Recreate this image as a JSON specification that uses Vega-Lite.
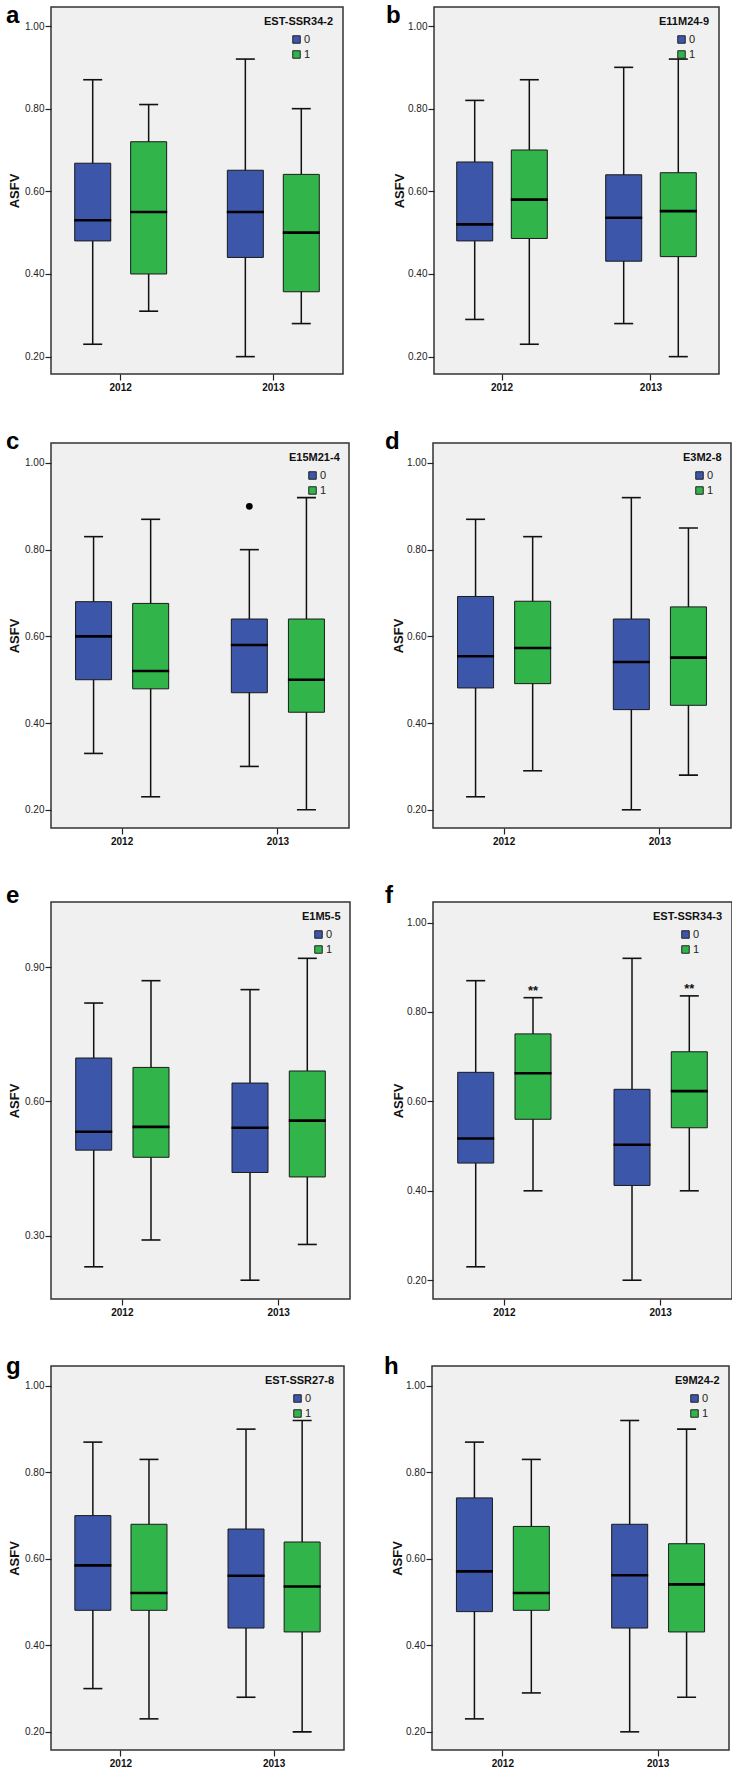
{
  "$schema": "https://vega.github.io/schema/vega-lite/v6.json",
  "padding": {"left": 5, "top": 3, "right": 0, "bottom": 0},
  "background": "#ffffff",
  "datasets": {
    "boxes": [
      {"panel": "a", "year": "2012", "group": "0", "min": 0.23, "q1": 0.48, "median": 0.53, "q3": 0.668, "max": 0.87},
      {"panel": "a", "year": "2012", "group": "1", "min": 0.31, "q1": 0.40, "median": 0.55, "q3": 0.72, "max": 0.81},
      {"panel": "a", "year": "2013", "group": "0", "min": 0.20, "q1": 0.44, "median": 0.55, "q3": 0.651, "max": 0.92},
      {"panel": "a", "year": "2013", "group": "1", "min": 0.28, "q1": 0.357, "median": 0.50, "q3": 0.641, "max": 0.80},
      {"panel": "b", "year": "2012", "group": "0", "min": 0.29, "q1": 0.48, "median": 0.52, "q3": 0.671, "max": 0.82},
      {"panel": "b", "year": "2012", "group": "1", "min": 0.23, "q1": 0.486, "median": 0.58, "q3": 0.70, "max": 0.87},
      {"panel": "b", "year": "2013", "group": "0", "min": 0.28, "q1": 0.431, "median": 0.536, "q3": 0.64, "max": 0.90},
      {"panel": "b", "year": "2013", "group": "1", "min": 0.20, "q1": 0.442, "median": 0.552, "q3": 0.645, "max": 0.92},
      {"panel": "c", "year": "2012", "group": "0", "min": 0.33, "q1": 0.50, "median": 0.60, "q3": 0.68, "max": 0.83},
      {"panel": "c", "year": "2012", "group": "1", "min": 0.23, "q1": 0.479, "median": 0.52, "q3": 0.676, "max": 0.87},
      {"panel": "c", "year": "2013", "group": "0", "min": 0.30, "q1": 0.47, "median": 0.58, "q3": 0.64, "max": 0.80},
      {"panel": "c", "year": "2013", "group": "1", "min": 0.20, "q1": 0.425, "median": 0.50, "q3": 0.64, "max": 0.92},
      {"panel": "d", "year": "2012", "group": "0", "min": 0.23, "q1": 0.481, "median": 0.554, "q3": 0.692, "max": 0.87},
      {"panel": "d", "year": "2012", "group": "1", "min": 0.29, "q1": 0.491, "median": 0.573, "q3": 0.681, "max": 0.83},
      {"panel": "d", "year": "2013", "group": "0", "min": 0.20, "q1": 0.431, "median": 0.541, "q3": 0.64, "max": 0.92},
      {"panel": "d", "year": "2013", "group": "1", "min": 0.28, "q1": 0.441, "median": 0.551, "q3": 0.668, "max": 0.85},
      {"panel": "e", "year": "2012", "group": "0", "min": 0.23, "q1": 0.491, "median": 0.532, "q3": 0.697, "max": 0.82},
      {"panel": "e", "year": "2012", "group": "1", "min": 0.29, "q1": 0.475, "median": 0.543, "q3": 0.676, "max": 0.87},
      {"panel": "e", "year": "2013", "group": "0", "min": 0.20, "q1": 0.441, "median": 0.541, "q3": 0.641, "max": 0.85},
      {"panel": "e", "year": "2013", "group": "1", "min": 0.28, "q1": 0.431, "median": 0.557, "q3": 0.668, "max": 0.92},
      {"panel": "f", "year": "2012", "group": "0", "min": 0.23, "q1": 0.462, "median": 0.517, "q3": 0.665, "max": 0.87},
      {"panel": "f", "year": "2012", "group": "1", "min": 0.40, "q1": 0.56, "median": 0.663, "q3": 0.751, "max": 0.832, "sig": "**"},
      {"panel": "f", "year": "2013", "group": "0", "min": 0.20, "q1": 0.412, "median": 0.503, "q3": 0.627, "max": 0.92},
      {"panel": "f", "year": "2013", "group": "1", "min": 0.40, "q1": 0.541, "median": 0.623, "q3": 0.711, "max": 0.836, "sig": "**"},
      {"panel": "g", "year": "2012", "group": "0", "min": 0.30, "q1": 0.481, "median": 0.585, "q3": 0.70, "max": 0.87},
      {"panel": "g", "year": "2012", "group": "1", "min": 0.23, "q1": 0.481, "median": 0.521, "q3": 0.68, "max": 0.83},
      {"panel": "g", "year": "2013", "group": "0", "min": 0.28, "q1": 0.44, "median": 0.561, "q3": 0.669, "max": 0.90},
      {"panel": "g", "year": "2013", "group": "1", "min": 0.20, "q1": 0.431, "median": 0.536, "q3": 0.639, "max": 0.92},
      {"panel": "h", "year": "2012", "group": "0", "min": 0.23, "q1": 0.478, "median": 0.571, "q3": 0.741, "max": 0.87},
      {"panel": "h", "year": "2012", "group": "1", "min": 0.29, "q1": 0.481, "median": 0.521, "q3": 0.675, "max": 0.83},
      {"panel": "h", "year": "2013", "group": "0", "min": 0.20, "q1": 0.44, "median": 0.562, "q3": 0.68, "max": 0.92},
      {"panel": "h", "year": "2013", "group": "1", "min": 0.28, "q1": 0.431, "median": 0.541, "q3": 0.635, "max": 0.90}
    ],
    "outliers": [
      {"panel": "c", "year": "2013", "group": "0", "value": 0.90}
    ]
  },
  "data": {"name": "boxes"},
  "config": {
    "font": "Liberation Sans",
    "view": {"fill": "#f0f0f0", "stroke": "#333333", "strokeWidth": 1.5},
    "axis": {"domain": false, "grid": false, "ticks": true, "tickSize": 6, "tickColor": "#222222", "tickWidth": 1.2, "labelColor": "#222222", "labelFont": "Liberation Sans"},
    "axisY": {"labelFontSize": 10, "labelPadding": 1, "minExtent": 27, "maxExtent": 27, "titleFontSize": 13, "titleFontWeight": "bold", "titleColor": "#111111", "titlePadding": 3},
    "axisX": {"labelFontSize": 10, "labelFontWeight": "bold", "labelAngle": 0, "labelPadding": 2, "labelColor": "#111111"},
    "title": {"fontSize": 24, "fontWeight": "bold", "anchor": "start", "frame": "group", "baseline": "alphabetic", "color": "#000000"},
    "legend": {"orient": "top-right", "offset": 9, "padding": 0, "titleFontSize": 11, "titleFontWeight": "bold", "titleColor": "#111111", "labelFontSize": 11, "labelColor": "#222222", "symbolType": "square", "symbolSize": 56, "symbolStrokeColor": "#222222", "symbolStrokeWidth": 1, "rowPadding": 2, "titlePadding": 7, "labelOffset": 2}
  },
  "resolve": {"scale": {"x": "independent", "y": "independent", "xOffset": "independent", "color": "independent"}, "legend": {"color": "independent"}},
  "spacing": 36,
  "vconcat": [
    {
      "spacing": 41,
      "resolve": {"scale": {"x": "independent", "y": "independent", "xOffset": "independent", "color": "independent"}, "legend": {"color": "independent"}},
      "hconcat": [
        {
          "width": 292, "height": 367, "title": {"text": "a", "offset": -21, "dx": -45},
          "transform": [{"filter": "datum.panel === 'a'"}],
          "encoding": {
            "x": {"field": "year", "type": "nominal", "title": null, "scale": {"paddingInner": 0.267, "paddingOuter": 0.09}},
            "xOffset": {"field": "group", "type": "nominal", "scale": {"domain": ["0", "1"], "paddingInner": 0, "paddingOuter": 0}}
          },
          "layer": [
            {"mark": {"type": "rule", "color": "#111111", "strokeWidth": 1.5}, "encoding": {"y": {"field": "min", "type": "quantitative", "title": "ASFV", "scale": {"domain": [0.158, 1.046], "nice": false, "zero": false}, "axis": {"values": [0.2, 0.4, 0.6, 0.8, 1.0], "format": ".2f"}}, "y2": {"field": "max"}}},
            {"mark": {"type": "tick", "color": "#111111", "size": 19, "thickness": 1.6, "opacity": 1}, "encoding": {"y": {"field": "min", "type": "quantitative", "title": "ASFV"}}},
            {"mark": {"type": "tick", "color": "#111111", "size": 19, "thickness": 1.6, "opacity": 1}, "encoding": {"y": {"field": "max", "type": "quantitative", "title": "ASFV"}}},
            {"mark": {"type": "bar", "stroke": "#1a1a1a", "strokeWidth": 1, "width": 36, "opacity": 1}, "encoding": {"y": {"field": "q1", "type": "quantitative", "title": "ASFV"}, "y2": {"field": "q3"}, "color": {"field": "group", "type": "nominal", "scale": {"domain": ["0", "1"], "range": ["#3c56a9", "#31b54b"]}, "legend": {"title": "EST-SSR34-2", "symbolOffset": 27}}}},
            {"mark": {"type": "tick", "color": "#000000", "size": 37, "thickness": 2.6, "opacity": 1}, "encoding": {"y": {"field": "median", "type": "quantitative", "title": "ASFV"}}}
          ]
        },
        {
          "width": 285, "height": 367, "title": {"text": "b", "offset": -21, "dx": -48},
          "transform": [{"filter": "datum.panel === 'b'"}],
          "encoding": {
            "x": {"field": "year", "type": "nominal", "title": null, "scale": {"paddingInner": 0.267, "paddingOuter": 0.09}},
            "xOffset": {"field": "group", "type": "nominal", "scale": {"domain": ["0", "1"], "paddingInner": 0, "paddingOuter": 0}}
          },
          "layer": [
            {"mark": {"type": "rule", "color": "#111111", "strokeWidth": 1.5}, "encoding": {"y": {"field": "min", "type": "quantitative", "title": "ASFV", "scale": {"domain": [0.158, 1.046], "nice": false, "zero": false}, "axis": {"values": [0.2, 0.4, 0.6, 0.8, 1.0], "format": ".2f", "titlePadding": 1}}, "y2": {"field": "max"}}},
            {"mark": {"type": "tick", "color": "#111111", "size": 19, "thickness": 1.6, "opacity": 1}, "encoding": {"y": {"field": "min", "type": "quantitative", "title": "ASFV"}}},
            {"mark": {"type": "tick", "color": "#111111", "size": 19, "thickness": 1.6, "opacity": 1}, "encoding": {"y": {"field": "max", "type": "quantitative", "title": "ASFV"}}},
            {"mark": {"type": "bar", "stroke": "#1a1a1a", "strokeWidth": 1, "width": 36, "opacity": 1}, "encoding": {"y": {"field": "q1", "type": "quantitative", "title": "ASFV"}, "y2": {"field": "q3"}, "color": {"field": "group", "type": "nominal", "scale": {"domain": ["0", "1"], "range": ["#3c56a9", "#31b54b"]}, "legend": {"title": "E11M24-9", "symbolOffset": 17}}}},
            {"mark": {"type": "tick", "color": "#000000", "size": 37, "thickness": 2.6, "opacity": 1}, "encoding": {"y": {"field": "median", "type": "quantitative", "title": "ASFV"}}}
          ]
        }
      ]
    },
    {
      "spacing": 34,
      "resolve": {"scale": {"x": "independent", "y": "independent", "xOffset": "independent", "color": "independent"}, "legend": {"color": "independent"}},
      "hconcat": [
        {
          "width": 298, "height": 385, "title": {"text": "c", "offset": -11, "dx": -45},
          "transform": [{"filter": "datum.panel === 'c'"}],
          "encoding": {
            "x": {"field": "year", "type": "nominal", "title": null, "scale": {"paddingInner": 0.267, "paddingOuter": 0.09}},
            "xOffset": {"field": "group", "type": "nominal", "scale": {"domain": ["0", "1"], "paddingInner": 0, "paddingOuter": 0}}
          },
          "layer": [
            {"mark": {"type": "rule", "color": "#111111", "strokeWidth": 1.5}, "encoding": {"y": {"field": "min", "type": "quantitative", "title": "ASFV", "scale": {"domain": [0.158, 1.046], "nice": false, "zero": false}, "axis": {"values": [0.2, 0.4, 0.6, 0.8, 1.0], "format": ".2f"}}, "y2": {"field": "max"}}},
            {"mark": {"type": "tick", "color": "#111111", "size": 19, "thickness": 1.6, "opacity": 1}, "encoding": {"y": {"field": "min", "type": "quantitative", "title": "ASFV"}}},
            {"mark": {"type": "tick", "color": "#111111", "size": 19, "thickness": 1.6, "opacity": 1}, "encoding": {"y": {"field": "max", "type": "quantitative", "title": "ASFV"}}},
            {"mark": {"type": "bar", "stroke": "#1a1a1a", "strokeWidth": 1, "width": 36, "opacity": 1}, "encoding": {"y": {"field": "q1", "type": "quantitative", "title": "ASFV"}, "y2": {"field": "q3"}, "color": {"field": "group", "type": "nominal", "scale": {"domain": ["0", "1"], "range": ["#3c56a9", "#31b54b"]}, "legend": {"title": "E15M21-4", "symbolOffset": 18}}}},
            {"mark": {"type": "tick", "color": "#000000", "size": 37, "thickness": 2.6, "opacity": 1}, "encoding": {"y": {"field": "median", "type": "quantitative", "title": "ASFV"}}},
            {"data": {"name": "outliers"}, "transform": [{"filter": "datum.panel === 'c'"}], "mark": {"type": "circle", "color": "#000000", "size": 45, "opacity": 1}, "encoding": {"y": {"field": "value", "type": "quantitative", "title": "ASFV"}}}
          ]
        },
        {
          "width": 298, "height": 385, "title": {"text": "d", "offset": -11, "dx": -48},
          "transform": [{"filter": "datum.panel === 'd'"}],
          "encoding": {
            "x": {"field": "year", "type": "nominal", "title": null, "scale": {"paddingInner": 0.267, "paddingOuter": 0.09}},
            "xOffset": {"field": "group", "type": "nominal", "scale": {"domain": ["0", "1"], "paddingInner": 0, "paddingOuter": 0}}
          },
          "layer": [
            {"mark": {"type": "rule", "color": "#111111", "strokeWidth": 1.5}, "encoding": {"y": {"field": "min", "type": "quantitative", "title": "ASFV", "scale": {"domain": [0.158, 1.046], "nice": false, "zero": false}, "axis": {"values": [0.2, 0.4, 0.6, 0.8, 1.0], "format": ".2f", "titlePadding": 1}}, "y2": {"field": "max"}}},
            {"mark": {"type": "tick", "color": "#111111", "size": 19, "thickness": 1.6, "opacity": 1}, "encoding": {"y": {"field": "min", "type": "quantitative", "title": "ASFV"}}},
            {"mark": {"type": "tick", "color": "#111111", "size": 19, "thickness": 1.6, "opacity": 1}, "encoding": {"y": {"field": "max", "type": "quantitative", "title": "ASFV"}}},
            {"mark": {"type": "bar", "stroke": "#1a1a1a", "strokeWidth": 1, "width": 36, "opacity": 1}, "encoding": {"y": {"field": "q1", "type": "quantitative", "title": "ASFV"}, "y2": {"field": "q3"}, "color": {"field": "group", "type": "nominal", "scale": {"domain": ["0", "1"], "range": ["#3c56a9", "#31b54b"]}, "legend": {"title": "E3M2-8", "symbolOffset": 11}}}},
            {"mark": {"type": "tick", "color": "#000000", "size": 37, "thickness": 2.6, "opacity": 1}, "encoding": {"y": {"field": "median", "type": "quantitative", "title": "ASFV"}}}
          ]
        }
      ]
    },
    {
      "spacing": 33,
      "resolve": {"scale": {"x": "independent", "y": "independent", "xOffset": "independent", "color": "independent"}, "legend": {"color": "independent"}},
      "hconcat": [
        {
          "width": 299, "height": 397, "title": {"text": "e", "offset": -6, "dx": -45},
          "transform": [{"filter": "datum.panel === 'e'"}],
          "encoding": {
            "x": {"field": "year", "type": "nominal", "title": null, "scale": {"paddingInner": 0.267, "paddingOuter": 0.09}},
            "xOffset": {"field": "group", "type": "nominal", "scale": {"domain": ["0", "1"], "paddingInner": 0, "paddingOuter": 0}}
          },
          "layer": [
            {"mark": {"type": "rule", "color": "#111111", "strokeWidth": 1.5}, "encoding": {"y": {"field": "min", "type": "quantitative", "title": "ASFV", "scale": {"domain": [0.158, 1.046], "nice": false, "zero": false}, "axis": {"values": [0.3, 0.6, 0.9], "format": ".2f"}}, "y2": {"field": "max"}}},
            {"mark": {"type": "tick", "color": "#111111", "size": 19, "thickness": 1.6, "opacity": 1}, "encoding": {"y": {"field": "min", "type": "quantitative", "title": "ASFV"}}},
            {"mark": {"type": "tick", "color": "#111111", "size": 19, "thickness": 1.6, "opacity": 1}, "encoding": {"y": {"field": "max", "type": "quantitative", "title": "ASFV"}}},
            {"mark": {"type": "bar", "stroke": "#1a1a1a", "strokeWidth": 1, "width": 36, "opacity": 1}, "encoding": {"y": {"field": "q1", "type": "quantitative", "title": "ASFV"}, "y2": {"field": "q3"}, "color": {"field": "group", "type": "nominal", "scale": {"domain": ["0", "1"], "range": ["#3c56a9", "#31b54b"]}, "legend": {"title": "E1M5-5", "symbolOffset": 11}}}},
            {"mark": {"type": "tick", "color": "#000000", "size": 37, "thickness": 2.6, "opacity": 1}, "encoding": {"y": {"field": "median", "type": "quantitative", "title": "ASFV"}}}
          ]
        },
        {
          "width": 299, "height": 397, "title": {"text": "f", "offset": -6, "dx": -48},
          "transform": [{"filter": "datum.panel === 'f'"}],
          "encoding": {
            "x": {"field": "year", "type": "nominal", "title": null, "scale": {"paddingInner": 0.267, "paddingOuter": 0.09}},
            "xOffset": {"field": "group", "type": "nominal", "scale": {"domain": ["0", "1"], "paddingInner": 0, "paddingOuter": 0}}
          },
          "layer": [
            {"mark": {"type": "rule", "color": "#111111", "strokeWidth": 1.5}, "encoding": {"y": {"field": "min", "type": "quantitative", "title": "ASFV", "scale": {"domain": [0.158, 1.046], "nice": false, "zero": false}, "axis": {"values": [0.2, 0.4, 0.6, 0.8, 1.0], "format": ".2f", "titlePadding": 1}}, "y2": {"field": "max"}}},
            {"mark": {"type": "tick", "color": "#111111", "size": 19, "thickness": 1.6, "opacity": 1}, "encoding": {"y": {"field": "min", "type": "quantitative", "title": "ASFV"}}},
            {"mark": {"type": "tick", "color": "#111111", "size": 19, "thickness": 1.6, "opacity": 1}, "encoding": {"y": {"field": "max", "type": "quantitative", "title": "ASFV"}}},
            {"mark": {"type": "bar", "stroke": "#1a1a1a", "strokeWidth": 1, "width": 36, "opacity": 1}, "encoding": {"y": {"field": "q1", "type": "quantitative", "title": "ASFV"}, "y2": {"field": "q3"}, "color": {"field": "group", "type": "nominal", "scale": {"domain": ["0", "1"], "range": ["#3c56a9", "#31b54b"]}, "legend": {"title": "EST-SSR34-3", "symbolOffset": 27}}}},
            {"mark": {"type": "tick", "color": "#000000", "size": 37, "thickness": 2.6, "opacity": 1}, "encoding": {"y": {"field": "median", "type": "quantitative", "title": "ASFV"}}},
            {"transform": [{"filter": "datum.sig"}], "mark": {"type": "text", "color": "#111111", "fontSize": 13, "fontWeight": "bold", "baseline": "alphabetic", "dy": -3}, "encoding": {"y": {"field": "max", "type": "quantitative", "title": "ASFV"}, "text": {"field": "sig"}}}
          ]
        }
      ]
    },
    {
      "spacing": 38,
      "resolve": {"scale": {"x": "independent", "y": "independent", "xOffset": "independent", "color": "independent"}, "legend": {"color": "independent"}},
      "hconcat": [
        {
          "width": 293, "height": 384, "title": {"text": "g", "offset": -13, "dx": -45},
          "transform": [{"filter": "datum.panel === 'g'"}],
          "encoding": {
            "x": {"field": "year", "type": "nominal", "title": null, "scale": {"paddingInner": 0.267, "paddingOuter": 0.09}},
            "xOffset": {"field": "group", "type": "nominal", "scale": {"domain": ["0", "1"], "paddingInner": 0, "paddingOuter": 0}}
          },
          "layer": [
            {"mark": {"type": "rule", "color": "#111111", "strokeWidth": 1.5}, "encoding": {"y": {"field": "min", "type": "quantitative", "title": "ASFV", "scale": {"domain": [0.158, 1.046], "nice": false, "zero": false}, "axis": {"values": [0.2, 0.4, 0.6, 0.8, 1.0], "format": ".2f"}}, "y2": {"field": "max"}}},
            {"mark": {"type": "tick", "color": "#111111", "size": 19, "thickness": 1.6, "opacity": 1}, "encoding": {"y": {"field": "min", "type": "quantitative", "title": "ASFV"}}},
            {"mark": {"type": "tick", "color": "#111111", "size": 19, "thickness": 1.6, "opacity": 1}, "encoding": {"y": {"field": "max", "type": "quantitative", "title": "ASFV"}}},
            {"mark": {"type": "bar", "stroke": "#1a1a1a", "strokeWidth": 1, "width": 36, "opacity": 1}, "encoding": {"y": {"field": "q1", "type": "quantitative", "title": "ASFV"}, "y2": {"field": "q3"}, "color": {"field": "group", "type": "nominal", "scale": {"domain": ["0", "1"], "range": ["#3c56a9", "#31b54b"]}, "legend": {"title": "EST-SSR27-8", "symbolOffset": 27}}}},
            {"mark": {"type": "tick", "color": "#000000", "size": 37, "thickness": 2.6, "opacity": 1}, "encoding": {"y": {"field": "median", "type": "quantitative", "title": "ASFV"}}}
          ]
        },
        {
          "width": 297, "height": 384, "title": {"text": "h", "offset": -13, "dx": -48},
          "transform": [{"filter": "datum.panel === 'h'"}],
          "encoding": {
            "x": {"field": "year", "type": "nominal", "title": null, "scale": {"paddingInner": 0.267, "paddingOuter": 0.09}},
            "xOffset": {"field": "group", "type": "nominal", "scale": {"domain": ["0", "1"], "paddingInner": 0, "paddingOuter": 0}}
          },
          "layer": [
            {"mark": {"type": "rule", "color": "#111111", "strokeWidth": 1.5}, "encoding": {"y": {"field": "min", "type": "quantitative", "title": "ASFV", "scale": {"domain": [0.158, 1.046], "nice": false, "zero": false}, "axis": {"values": [0.2, 0.4, 0.6, 0.8, 1.0], "format": ".2f", "titlePadding": 1}}, "y2": {"field": "max"}}},
            {"mark": {"type": "tick", "color": "#111111", "size": 19, "thickness": 1.6, "opacity": 1}, "encoding": {"y": {"field": "min", "type": "quantitative", "title": "ASFV"}}},
            {"mark": {"type": "tick", "color": "#111111", "size": 19, "thickness": 1.6, "opacity": 1}, "encoding": {"y": {"field": "max", "type": "quantitative", "title": "ASFV"}}},
            {"mark": {"type": "bar", "stroke": "#1a1a1a", "strokeWidth": 1, "width": 36, "opacity": 1}, "encoding": {"y": {"field": "q1", "type": "quantitative", "title": "ASFV"}, "y2": {"field": "q3"}, "color": {"field": "group", "type": "nominal", "scale": {"domain": ["0", "1"], "range": ["#3c56a9", "#31b54b"]}, "legend": {"title": "E9M24-2", "symbolOffset": 14}}}},
            {"mark": {"type": "tick", "color": "#000000", "size": 37, "thickness": 2.6, "opacity": 1}, "encoding": {"y": {"field": "median", "type": "quantitative", "title": "ASFV"}}}
          ]
        }
      ]
    }
  ]
}
